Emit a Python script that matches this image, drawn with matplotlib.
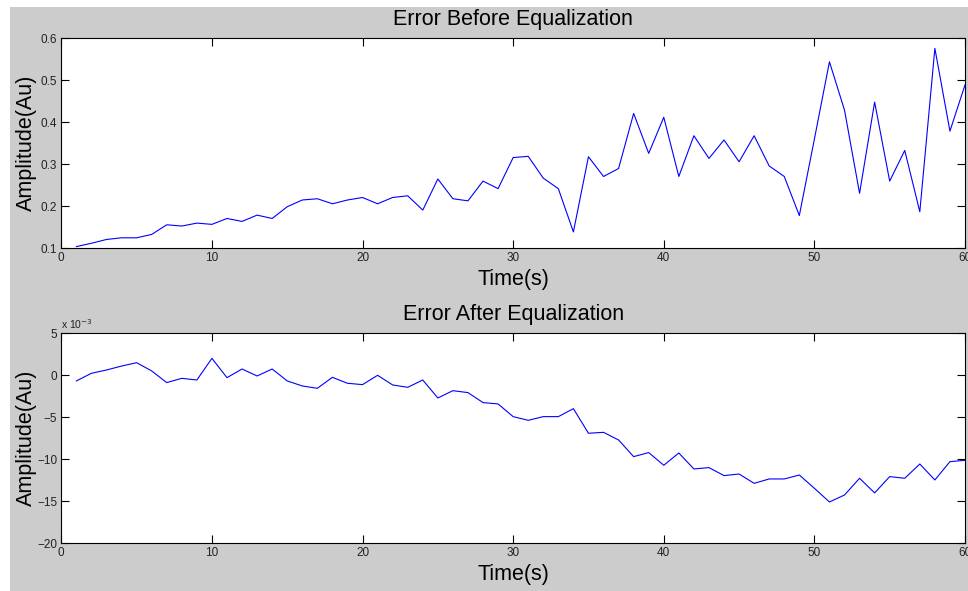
import numpy as np
import matplotlib
matplotlib.use("Agg")
import matplotlib.pyplot as plt
from matplotlib.patches import Rectangle

plt.rcParams['font.family'] = ['Liberation Sans', 'DejaVu Sans']

# time axis (s)
time_s = list(range(1, 61))

# error amplitude before equalization (Au)
err_before = [0.104, 0.112, 0.121, 0.125, 0.125, 0.133, 0.156, 0.153, 0.160, 0.157,
              0.171, 0.164, 0.179, 0.171, 0.199, 0.215, 0.218, 0.206, 0.215, 0.221,
              0.206, 0.221, 0.225, 0.191, 0.265, 0.218, 0.213, 0.260, 0.242, 0.316,
              0.319, 0.267, 0.242, 0.139, 0.318, 0.271, 0.290, 0.421, 0.326, 0.412,
              0.271, 0.368, 0.314, 0.358, 0.306, 0.368, 0.296, 0.271, 0.178, 0.360,
              0.544, 0.429, 0.231, 0.448, 0.260, 0.333, 0.187, 0.576, 0.379, 0.489]

# error amplitude after equalization (x 1e-3 Au)
err_after = [-0.67, 0.24, 0.63, 1.10, 1.50, 0.52, -0.87, -0.36, -0.56, 2.02,
             -0.28, 0.75, -0.08, 0.75, -0.67, -1.27, -1.55, -0.24, -0.95, -1.11,
             0.00, -1.15, -1.43, -0.56, -2.70, -1.83, -2.06, -3.25, -3.41, -4.92,
             -5.36, -4.92, -4.92, -3.97, -6.90, -6.79, -7.70, -9.68, -9.20, -10.71,
             -9.25, -11.15, -10.99, -11.94, -11.75, -12.86, -12.34, -12.34, -11.87, -13.45,
             -15.08, -14.25, -12.26, -14.00, -12.06, -12.26, -10.56, -12.46, -10.28, -10.12]

x_ticks = [0, 10, 20, 30, 40, 50, 60]
before_yticks = [0.1, 0.2, 0.3, 0.4, 0.5, 0.6]
after_yticks = [-20, -15, -10, -5, 0, 5]

W, H = 968, 591
fig = plt.figure(figsize=(W / 100, H / 100), dpi=100, facecolor='white')
# matlab-style grey figure area (screenshot has a thin white border top/left)
fig.patches.append(Rectangle((10 / W, 0), 1 - 10 / W, 1 - 7 / H,
                             transform=fig.transFigure, facecolor='#cccccc',
                             edgecolor='none', zorder=-10))

left = 61.3 / W
width = (965 - 61.3) / W
height = 210 / H
ax1 = fig.add_axes([left, (H - 248.3) / H, width, height])
ax2 = fig.add_axes([left, (H - 543.3) / H, width, height])


def style(ax, yticks, title):
    ax.set_xlim(0, 60)
    ax.set_ylim(yticks[0], yticks[-1])
    ax.set_xticks(x_ticks)
    ax.set_yticks(yticks)
    ax.tick_params(direction='in', top=True, right=True, length=6, width=0.8,
                   labelsize=8.5, labelcolor='#222222', pad=3)
    for s in ax.spines.values():
        s.set_linewidth(0.8)
    ax.set_title(title, fontsize=15.5, pad=9.5)
    ax.set_xlabel('Time(s)', fontsize=15.5, labelpad=3.5)
    ax.set_ylabel('Amplitude(Au)', fontsize=15.5)
    ax.yaxis.set_label_coords(-0.027, 0.5)


ax1.plot(time_s, err_before, color='blue', lw=0.8)
style(ax1, before_yticks, 'Error Before Equalization')
ax1.set_yticklabels(['0.1', '0.2', '0.3', '0.4', '0.5', '0.6'])

ax2.plot(time_s, err_after, color='blue', lw=0.8)
style(ax2, after_yticks, 'Error After Equalization')
ax2.text(0, 1.012, r'x 10$^{-3}$', transform=ax2.transAxes, ha='left',
         va='bottom', fontsize=7.5, color='#222222')

fig.savefig('out.png', dpi=100, facecolor=fig.get_facecolor())
